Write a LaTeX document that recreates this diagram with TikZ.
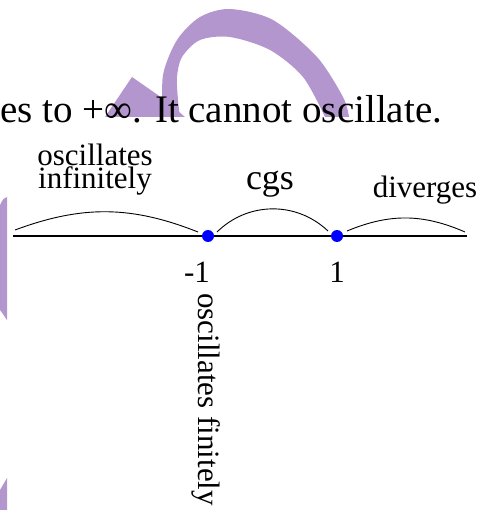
\documentclass[tikz,border=0pt]{standalone}
\usepackage{fontspec}
\setmainfont{Liberation Serif}
\usepackage{xcolor}
\definecolor{wmark}{RGB}{180,150,206}
\tikzset{
  numline/.style={line width=1.4pt},
  region/.style={line width=0.9pt},
  endpt/.style={circle, fill=blue, inner sep=0pt, minimum size=12pt},
  lbl/.style={font=\fontsize{31}{23}\selectfont, inner sep=0pt},
  blot/.style={fill=wmark, draw=none},
}

\begin{document}
\begin{tikzpicture}[x=1pt, y=-1pt]
  \useasboundingbox (0,0) rectangle (481,510);
  % watermark pieces
  \fill[blot] (105,117) -- (132,77) -- (165,100) -- (185,117) -- cycle;
  \fill[blot] plot[smooth] coordinates {(163,117) (163,75) (177,40) (200,17) (230,9) (273,20) (317,57) (343,97) (349,117)}
    -- plot[smooth] coordinates {(325,117) (303,77) (270,50) (230,37) (200,40) (182,57) (177,77) (178,100) (180,117)} -- cycle;
  \fill[blot] (0,205) .. controls (3,199) .. (7,197) -- (7,320) .. controls (3,314) .. (0,310) -- cycle;
  \fill[blot] (0,490) -- (7,478) -- (7,510) -- (0,510) -- cycle;

  \node[font=\fontsize{39}{40}\selectfont, inner sep=0pt, anchor=base west] (head) at (0,123)
    {es to +∞. It cannot oscillate.};

  % number line
  \coordinate (lend) at (13,236);
  \coordinate (rend) at (467,236);
  \draw[numline] (lend) -- (rend);
  \node[endpt] (m1) at (208,236) {};
  \node[endpt] (p1) at (337,236) {};

  \coordinate (a1) at (15,230);  \coordinate (b1) at (198,232);
  \coordinate (a2) at (217,232); \coordinate (b2) at (328,231);
  \coordinate (a3) at (347,231); \coordinate (b3) at (465,232);
  \draw[region] (a1) to[bend left=21] (b1);
  \draw[region] (a2) to[bend left=44] (b2);
  \draw[region] (a3) to[bend left=23] (b3);

  \node[lbl, align=center, anchor=base] (inf) at (95,189) {oscillates\\infinitely};
  \node[lbl, font=\fontsize{36}{40}\selectfont, anchor=base] (cgs) at (270,190) {cgs};
  \node[lbl, anchor=base] (div) at (425,198) {diverges};
  \node[lbl, anchor=base] (m1lab) at (197,282) {-1};
  \node[lbl, anchor=base] (p1lab) at (337,282) {1};
  \node[lbl, rotate=-90, anchor=base west] (fin) at (198,293) {oscillates finitely};
\end{tikzpicture}
\end{document}
